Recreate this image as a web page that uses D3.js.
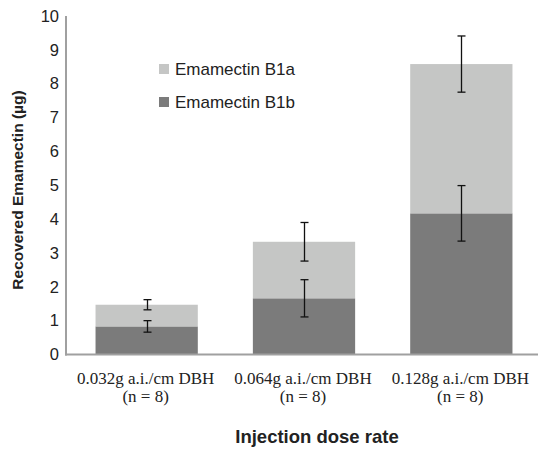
<!DOCTYPE html>
<html>
<head>
<meta charset="utf-8">
<script src="https://cdn.jsdelivr.net/npm/d3@7"></script>
<style>
  body { margin: 0; background: #fff; }
  svg { display: block; }
</style>
</head>
<body>
<script>
// chart data
const doses = ["0.032g a.i./cm DBH", "0.064g a.i./cm DBH", "0.128g a.i./cm DBH"];
const sampleN = ["(n = 8)", "(n = 8)", "(n = 8)"];
const b1b = [0.83, 1.66, 4.17];
const b1a = [0.64, 1.67, 4.41];
const b1bErr = [0.17, 0.55, 0.82];
const b1aErr = [0.15, 0.57, 0.83];
const yTicks = [0, 1, 2, 3, 4, 5, 6, 7, 8, 9, 10];

const width = 538, height = 449;
const margin = { left: 66, top: 16, bottom: 94 };
const sans = "'Liberation Sans', Arial, Helvetica, sans-serif";
const serif = "'Liberation Serif', 'Times New Roman', Times, serif";

const svg = d3.select("body").append("svg")
    .attr("width", width)
    .attr("height", height);

const x = d3.scaleBand()
    .domain(doses)
    .range([68, 540])
    .paddingInner(0.35)
    .paddingOuter(0.175);

const y = d3.scaleLinear()
    .domain([0, 10])
    .range([height - margin.bottom - 0.5, margin.top]);

const light = "#c5c6c5", dark = "#7b7b7b";

// stacked bars: B1b at bottom, B1a on top
let rows = doses.map((d, i) => ({ dose: d, b: b1b[i], a: b1a[i], eb: b1bErr[i], ea: b1aErr[i] }));

svg.append("g").selectAll("rect.b1b")
    .data(rows)
    .join("rect")
    .attr("class", "b1b")
    .attr("x", d => x(d.dose))
    .attr("width", x.bandwidth())
    .attr("y", d => y(d.b))
    .attr("height", d => y(0) - y(d.b))
    .attr("fill", dark);

svg.append("g").selectAll("rect.b1a")
    .data(rows)
    .join("rect")
    .attr("class", "b1a")
    .attr("x", d => x(d.dose))
    .attr("width", x.bandwidth())
    .attr("y", d => y(d.b + d.a))
    .attr("height", d => y(d.b) - y(d.b + d.a))
    .attr("fill", light);

// error bars at the top of each segment
let errs = [];
rows.forEach(d => {
    errs.push({ dose: d.dose, v: d.b, e: d.eb });
    errs.push({ dose: d.dose, v: d.b + d.a, e: d.ea });
});

const cap = 4;
let eg = svg.append("g").attr("stroke", "#111").attr("stroke-width", 1.3);
errs.forEach(d => {
    let cx = Math.round(x(d.dose) + x.bandwidth() / 2) + 0.5;
    eg.append("line").attr("x1", cx).attr("x2", cx).attr("y1", y(d.v + d.e)).attr("y2", y(d.v - d.e));
    eg.append("line").attr("x1", cx - cap).attr("x2", cx + cap).attr("y1", y(d.v + d.e)).attr("y2", y(d.v + d.e));
    eg.append("line").attr("x1", cx - cap).attr("x2", cx + cap).attr("y1", y(d.v - d.e)).attr("y2", y(d.v - d.e));
});

// axes
const yAxis = svg.append("g")
    .attr("transform", `translate(${margin.left},0)`)
    .call(d3.axisLeft(y).tickValues(yTicks).tickSize(0).tickPadding(7));
yAxis.select(".domain").attr("stroke", "#a0a0a0").attr("stroke-width", 2)
    .attr("d", `M0,${margin.top}V${y(0) + 1}`);
yAxis.selectAll("text")
    .attr("font-family", sans)
    .attr("font-size", 16.5)
    .attr("fill", "#222");

const xAxis = svg.append("g")
    .attr("transform", `translate(0,${y(0)})`)
    .call(d3.axisBottom(x).tickSize(0).tickFormat(""));
xAxis.select(".domain").attr("stroke", "#a0a0a0").attr("stroke-width", 2)
    .attr("d", `M${margin.left - 1},0H${width}`);

// two-line category labels in serif
const catLabels = svg.append("g")
    .attr("font-family", serif)
    .attr("font-size", 17)
    .attr("fill", "#222")
    .attr("text-anchor", "middle");
catLabels.selectAll("text.l1")
    .data(doses)
    .join("text")
    .attr("class", "l1")
    .attr("x", d => x(d) + x.bandwidth() / 2 - 1)
    .attr("y", 384)
    .text(d => d);
catLabels.selectAll("text.l2")
    .data(doses)
    .join("text")
    .attr("class", "l2")
    .attr("x", d => x(d) + x.bandwidth() / 2 - 1)
    .attr("y", 402)
    .text((d, i) => sampleN[i]);

// axis titles
svg.append("text")
    .attr("x", 317)
    .attr("y", 443)
    .attr("text-anchor", "middle")
    .attr("font-family", sans)
    .attr("font-weight", "bold")
    .attr("font-size", 18.5)
    .attr("fill", "#222")
    .text("Injection dose rate");

svg.append("text")
    .attr("transform", "translate(23,190) rotate(-90)")
    .attr("text-anchor", "middle")
    .attr("font-family", sans)
    .attr("font-weight", "bold")
    .attr("font-size", 15.5)
    .attr("fill", "#222")
    .text("Recovered Emamectin (µg)");

// legend
const legendItems = [
    { name: "Emamectin B1a", color: light },
    { name: "Emamectin B1b", color: dark }
];
const lg = svg.append("g").attr("transform", "translate(159,64)");
lg.selectAll("rect")
    .data(legendItems)
    .join("rect")
    .attr("x", 0)
    .attr("y", (d, i) => i * 33)
    .attr("width", 10)
    .attr("height", 10)
    .attr("fill", d => d.color);
lg.selectAll("text")
    .data(legendItems)
    .join("text")
    .attr("x", 16)
    .attr("y", (d, i) => i * 33 + 11)
    .attr("font-family", sans)
    .attr("font-size", 17)
    .attr("fill", "#222")
    .text(d => d.name);
</script>
</body>
</html>
